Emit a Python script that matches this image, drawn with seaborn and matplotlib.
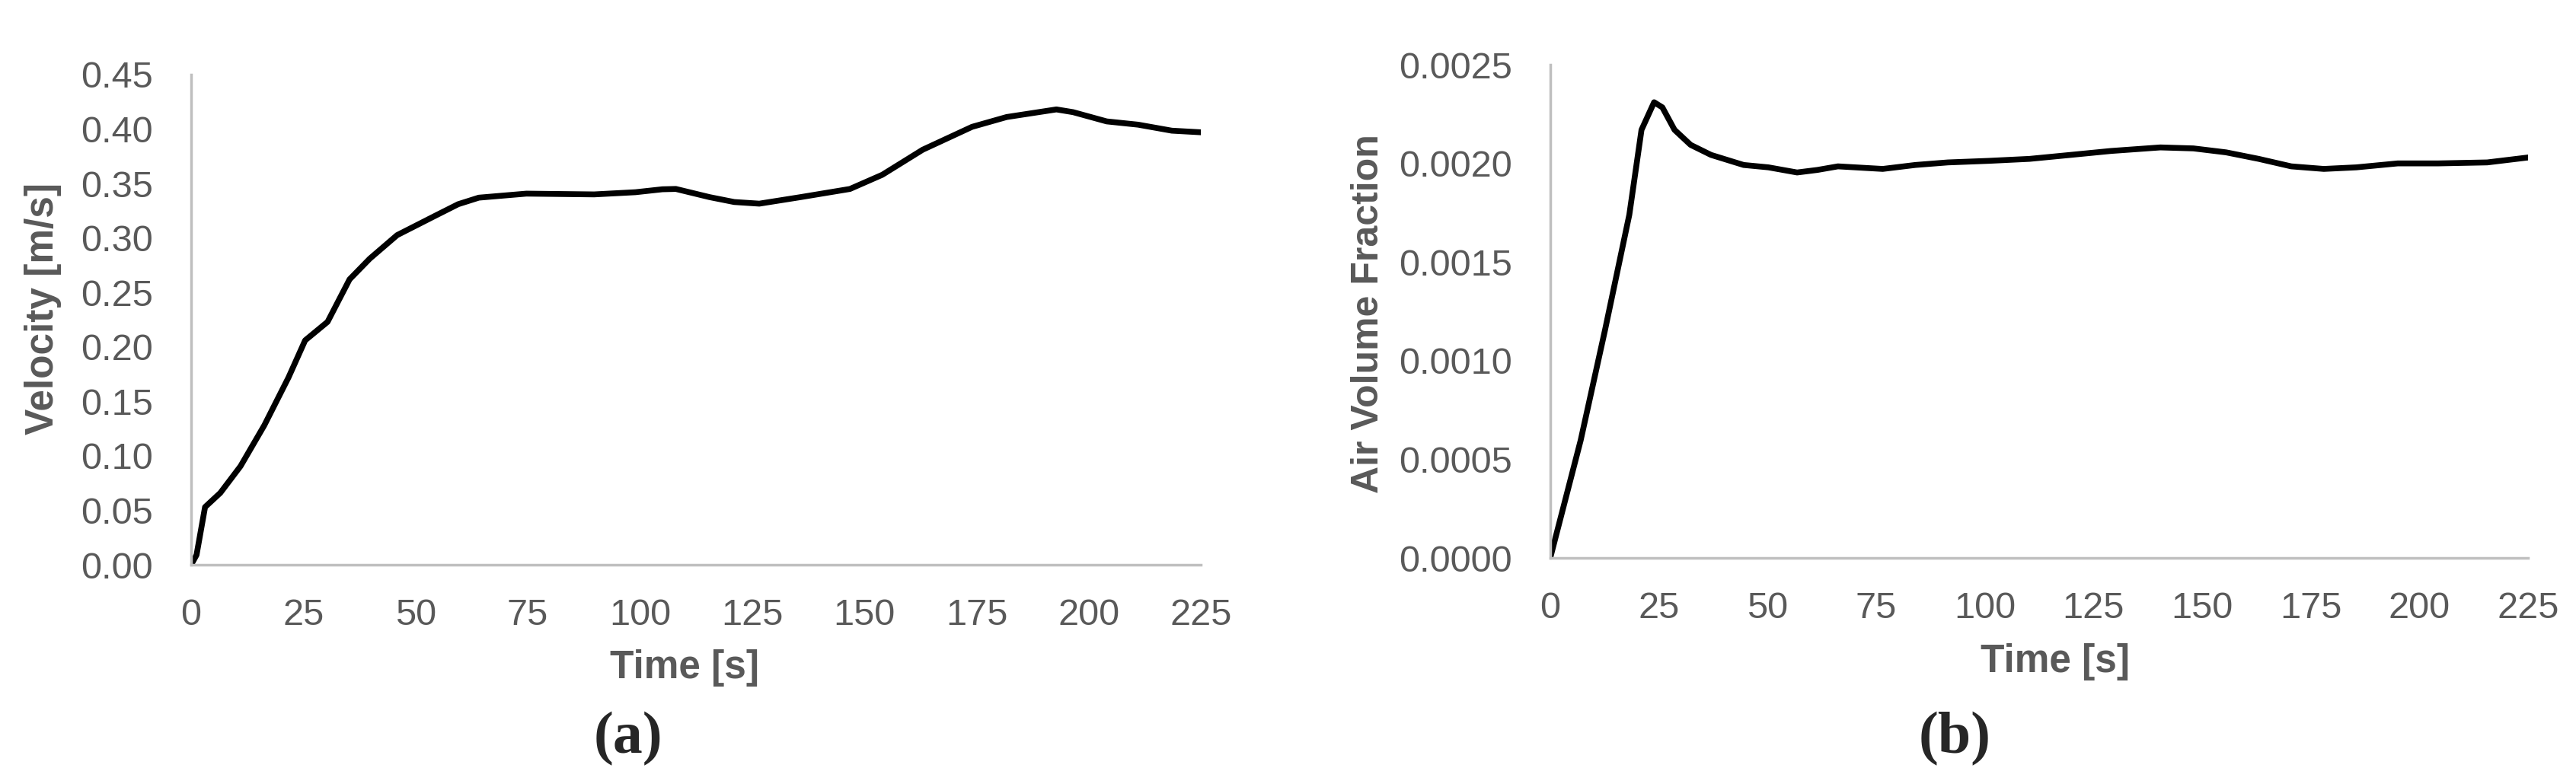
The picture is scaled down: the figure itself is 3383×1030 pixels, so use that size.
import matplotlib
matplotlib.use("Agg")
import matplotlib.pyplot as plt
import pandas as pd
import seaborn as sns

# (a) velocity
time_a = [0, 1.2, 3.1, 6.5, 11, 16.3, 21.7, 25.4, 30.4, 35.3, 39.8, 45.9, 54.2, 59.5, 64.1,
          74.7, 89.8, 99, 105, 108, 115.5, 121, 126.6, 135.8, 146.8, 154, 163, 174, 181.7,
          192.8, 196.5, 204, 211, 218.5, 225]
velocity = [0, 0.009, 0.053, 0.066, 0.0905, 0.128, 0.172, 0.206, 0.223, 0.262, 0.281, 0.3026,
            0.320, 0.331, 0.337, 0.3407, 0.340, 0.342, 0.3447, 0.345, 0.3375, 0.333, 0.3315,
            0.3375, 0.345, 0.358, 0.381, 0.402, 0.411, 0.418, 0.4155, 0.407, 0.404, 0.3985, 0.397]

# (b) air volume fraction
time_b = [0, 7, 12.6, 18.2, 21, 23.9, 25.8, 28.6, 32.3, 37, 44.5, 50.2, 56.8, 61.5, 66.2, 76.5,
          84, 91.5, 101, 110.3, 119.7, 129, 140.4, 148, 155.5, 163, 170.5, 178, 185.5, 195,
          204.3, 215.6, 225]
air_frac = [0, 0.000596, 0.001155, 0.00174, 0.00217, 0.00231, 0.002284, 0.00217, 0.002094,
            0.002043, 0.001992, 0.00198, 0.001954, 0.001967, 0.001985, 0.001972, 0.001992,
            0.002005, 0.002013, 0.002023, 0.002043, 0.002063, 0.002081, 0.002076, 0.002056,
            0.002023, 0.001985, 0.001972, 0.00198, 0.002, 0.002, 0.002005, 0.00203]

x_ticks = [0, 25, 50, 75, 100, 125, 150, 175, 200, 225]
ya_ticks = [0, 0.05, 0.10, 0.15, 0.20, 0.25, 0.30, 0.35, 0.40, 0.45]
yb_ticks = [0, 0.0005, 0.0010, 0.0015, 0.0020, 0.0025]

sns.set_style("white")
plt.rcParams['font.family'] = ['Liberation Sans', 'DejaVu Sans']

df_a = pd.DataFrame({"t": time_a, "v": velocity})
df_b = pd.DataFrame({"t": time_b, "f": air_frac})

fig = plt.figure(figsize=(33.83, 10.30), dpi=100)
ax1 = fig.add_axes([0.0742, 0.2796, 0.392, 0.6253])
ax2 = fig.add_axes([0.6018, 0.2883, 0.3796, 0.6291])

gray = "#595959"
sns.lineplot(data=df_a, x="t", y="v", ax=ax1, color="black", linewidth=5.5)
sns.lineplot(data=df_b, x="t", y="f", ax=ax2, color="black", linewidth=5.5)

for ax, yt, fmt in [(ax1, ya_ticks, "{:.2f}"), (ax2, yb_ticks, "{:.4f}")]:
    ax.set_xlim(0, 225)
    ax.set_ylim(yt[0], yt[-1])
    ax.set_xticks(x_ticks)
    ax.set_xticklabels([str(t) for t in x_ticks])
    ax.set_yticks(yt)
    ax.set_yticklabels([fmt.format(v) for v in yt])
    ax.tick_params(axis="both", length=0, labelsize=35, labelcolor=gray)
    ax.tick_params(axis="x", pad=32)
    ax.tick_params(axis="y", pad=36)
    for s in ["top", "right"]:
        ax.spines[s].set_visible(False)
    for s in ["left", "bottom"]:
        ax.spines[s].set_color("#BFBFBF")
        ax.spines[s].set_linewidth(2.5)
    ax.set_xlabel("Time [s]", fontsize=37, fontweight="bold", color=gray, va="center")

ax1.set_ylabel("Velocity [m/s]", fontsize=37, fontweight="bold", color=gray, va="center")
ax2.set_ylabel("Air Volume Fraction", fontsize=36, fontweight="bold", color=gray, va="center")
ax1.yaxis.set_label_coords(-0.147, 0.523)
ax2.yaxis.set_label_coords(-0.186, 0.495)
ax1.xaxis.set_label_coords(0.489, -0.211)
ax2.xaxis.set_label_coords(0.516, -0.211)

fig.text(825 / 3383, 1 - 971 / 1030, "(a)", fontsize=56, fontweight="bold",
         family=["Liberation Serif", "DejaVu Serif"], ha="center", va="center")
fig.text(2567 / 3383, 1 - 971 / 1030, "(b)", fontsize=56, fontweight="bold",
         family=["Liberation Serif", "DejaVu Serif"], ha="center", va="center")

fig.savefig("out.png", dpi=100, facecolor="white")
